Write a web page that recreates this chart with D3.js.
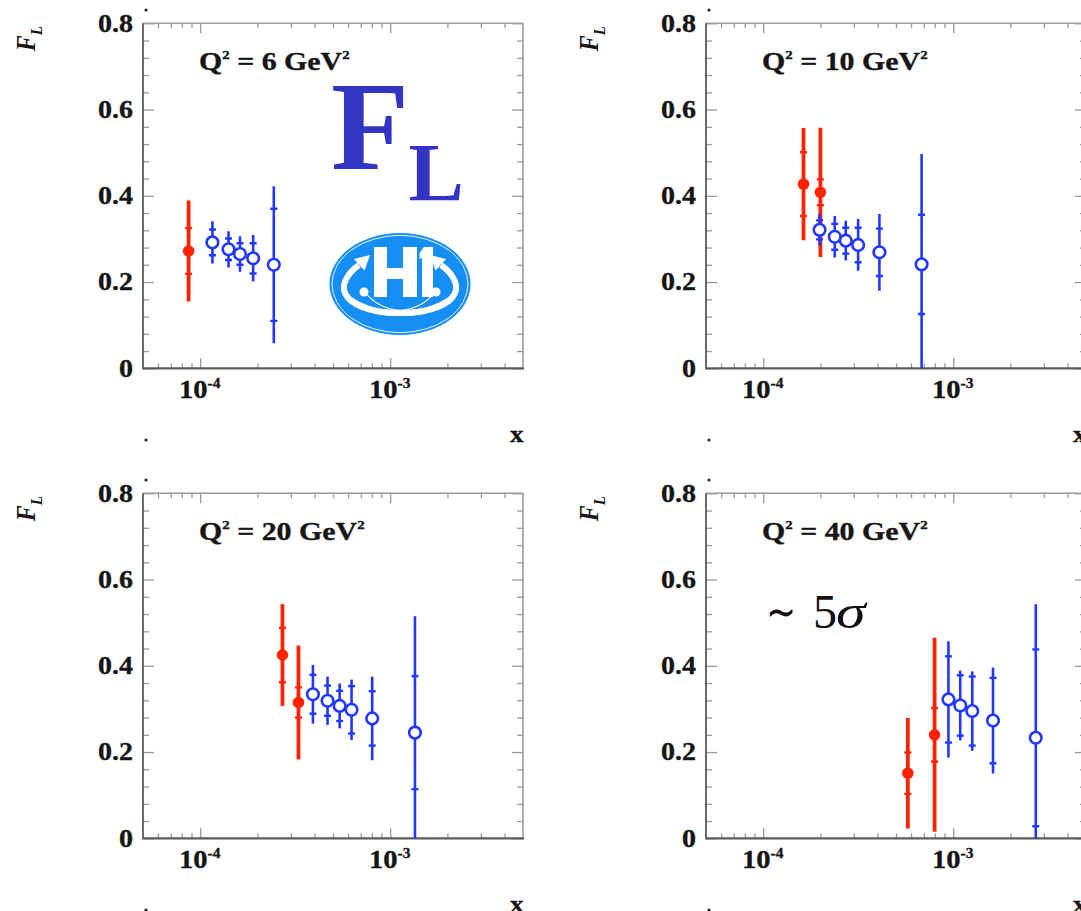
<!DOCTYPE html>
<html>
<head>
<meta charset="utf-8">
<script src="https://cdn.jsdelivr.net/npm/d3@7"></script>
<style>
  html, body { margin: 0; padding: 0; background: #fff; }
  svg { display: block; }
</style>
</head>
<body>
<svg id="chart" width="1081" height="911" font-family="'Liberation Serif', 'Times New Roman', serif"></svg>
<script>
// F_L measurements at four Q^2 values (GeV^2)
const q2Values = [6, 10, 20, 40];

// low-x points (filled red): x, F_L, statistical and total errors
const redX    = [[8.69e-5], [1.63e-4, 2.00e-4], [2.71e-4, 3.29e-4], [5.77e-4, 7.98e-4]];
const redFL   = [[0.272],   [0.427, 0.408],     [0.425, 0.315],     [0.151, 0.240]];
const redStat = [[0.053],   [0.074, 0.030],     [0.063, 0.035],     [0.048, 0.062]];
const redTot  = [[0.117],   [0.130, 0.150],     [0.118, 0.132],     [0.128, 0.225]];

// higher-x points (open blue)
const blueX    = [[1.16e-4, 1.41e-4, 1.62e-4, 1.90e-4, 2.44e-4],
                  [1.98e-4, 2.38e-4, 2.72e-4, 3.16e-4, 4.09e-4, 6.82e-4],
                  [3.92e-4, 4.68e-4, 5.42e-4, 6.26e-4, 8.04e-4, 1.35e-3],
                  [9.44e-4, 1.089e-3, 1.26e-3, 1.62e-3, 2.72e-3]];
const blueFL   = [[0.292, 0.276, 0.265, 0.255, 0.240],
                  [0.321, 0.305, 0.296, 0.286, 0.269, 0.241],
                  [0.334, 0.319, 0.307, 0.298, 0.278, 0.245],
                  [0.322, 0.308, 0.295, 0.273, 0.233]];
const blueStat = [[0.030, 0.025, 0.025, 0.035, 0.130],
                  [0.022, 0.030, 0.030, 0.040, 0.055, 0.115],
                  [0.045, 0.035, 0.035, 0.055, 0.063, 0.131],
                  [0.100, 0.070, 0.080, 0.099, 0.205]];
const blueTot  = [[0.049, 0.042, 0.041, 0.054, 0.182],
                  [0.037, 0.048, 0.046, 0.060, 0.089, 0.256],
                  [0.068, 0.056, 0.052, 0.070, 0.097, 0.270],
                  [0.135, 0.081, 0.092, 0.123, 0.310]];

// axis ticks
const yMajorTicks = [0, 0.2, 0.4, 0.6, 0.8];
const yTickLabels = ["0", "0.2", "0.4", "0.6", "0.8"];
const xMajorExps = [-4, -3];
const xMinorTicks = [6e-5, 7e-5, 8e-5, 9e-5,
                     2e-4, 3e-4, 4e-4, 5e-4, 6e-4, 7e-4, 8e-4, 9e-4,
                     2e-3, 3e-3, 4e-3];

const RED = "#ff2200";
const BLUE = "#2238ff";
const INK = "#161616";
const AXIS_DARK = "#5a5a5a";
const AXIS_LIGHT = "#9a9a9a";

const svg = d3.select("#chart");
svg.append("rect").attr("width", 1081).attr("height", 911).attr("fill", "#fff");

const frame = { left: 143, right: 523, top: 23.3, bottom: 368.3 };
const panelOffsets = [[0, 0], [563, 0], [0, 470], [563, 470]];

const x = d3.scaleLog().domain([5e-5, 5e-3]).range([frame.left, frame.right]);
const y = d3.scaleLinear().domain([0, 0.8]).range([frame.bottom, frame.top]);

const yMinorTicks = d3.range(0, 0.8001, 0.04)
  .filter(v => yMajorTicks.every(m => Math.abs(m - v) > 1e-6));
const xMajorTicks = xMajorExps.map(e => Math.pow(10, e));

const SX = 1.12; // horizontal stretch of the typeset labels

function stretchedText(g, px, py, sx) {
  return g.append("g").attr("transform", `translate(${px},${py}) scale(${sx},1)`)
    .append("text").attr("x", 0).attr("y", 0)
    .attr("stroke", INK).attr("stroke-width", 0.35);
}

q2Values.forEach((q2, i) => {
  const [ox, oy] = panelOffsets[i];
  const g = svg.append("g").attr("transform", `translate(${ox},${oy})`);

  const clipId = "clip" + i;
  g.append("clipPath").attr("id", clipId)
    .append("rect")
    .attr("x", frame.left).attr("y", frame.top)
    .attr("width", frame.right - frame.left).attr("height", frame.bottom - frame.top);

  // tick marks on all four sides, pointing inward
  const tickStyle = sel => {
    sel.select(".domain").remove();
    sel.selectAll(".tick line").attr("stroke", AXIS_LIGHT).attr("stroke-width", 1.3);
  };
  const bottomMajor = d3.axisBottom(x).tickValues(xMajorTicks).tickSize(-10).tickFormat("");
  const bottomMinor = d3.axisBottom(x).tickValues(xMinorTicks).tickSize(-5).tickFormat("");
  const topMajor = d3.axisTop(x).tickValues(xMajorTicks).tickSize(-10).tickFormat("");
  const topMinor = d3.axisTop(x).tickValues(xMinorTicks).tickSize(-5).tickFormat("");
  const leftMajor = d3.axisLeft(y).tickValues(yMajorTicks).tickSize(-11).tickFormat("");
  const leftMinor = d3.axisLeft(y).tickValues(yMinorTicks).tickSize(-6).tickFormat("");
  const rightMajor = d3.axisRight(y).tickValues(yMajorTicks).tickSize(-11).tickFormat("");
  const rightMinor = d3.axisRight(y).tickValues(yMinorTicks).tickSize(-6).tickFormat("");

  [[bottomMajor, 0, frame.bottom], [bottomMinor, 0, frame.bottom],
   [topMajor, 0, frame.top], [topMinor, 0, frame.top],
   [leftMajor, frame.left, 0], [leftMinor, frame.left, 0],
   [rightMajor, frame.right, 0], [rightMinor, frame.right, 0]].forEach(([ax, tx, ty]) => {
    g.append("g").attr("transform", `translate(${tx},${ty})`).call(ax).call(tickStyle);
  });

  // frame
  g.append("line").attr("x1", frame.left).attr("x2", frame.right)
    .attr("y1", frame.top).attr("y2", frame.top)
    .attr("stroke", AXIS_LIGHT).attr("stroke-width", 1.6);
  g.append("line").attr("x1", frame.right).attr("x2", frame.right)
    .attr("y1", frame.top).attr("y2", frame.bottom)
    .attr("stroke", AXIS_LIGHT).attr("stroke-width", 1.6);
  g.append("line").attr("x1", frame.left).attr("x2", frame.left)
    .attr("y1", frame.top).attr("y2", frame.bottom + 1)
    .attr("stroke", AXIS_DARK).attr("stroke-width", 1.8);
  g.append("line").attr("x1", frame.left).attr("x2", frame.right + 1)
    .attr("y1", frame.bottom).attr("y2", frame.bottom)
    .attr("stroke", AXIS_DARK).attr("stroke-width", 2.2);

  // y tick labels
  yMajorTicks.forEach((v, k) => {
    stretchedText(g, 133, y(v) + 8.4, SX)
      .attr("text-anchor", "end").attr("font-size", 25).attr("font-weight", "bold")
      .attr("fill", INK).text(yTickLabels[k]);
  });

  // x tick labels 10^n
  xMajorExps.forEach(e => {
    const t = stretchedText(g, x(Math.pow(10, e)) - 0.5, 398, 1.1)
      .attr("text-anchor", "middle").attr("font-weight", "bold").attr("fill", INK);
    t.append("tspan").attr("font-size", 26).text("10");
    t.append("tspan").attr("font-size", 14).attr("dy", -10).text(String(e));
  });

  // axis titles
  stretchedText(g, 516.7, 441.5, 1.18)
    .attr("text-anchor", "middle").attr("font-size", 23).attr("font-weight", "bold")
    .attr("fill", INK).text("x");

  const fl = g.append("g").attr("transform", "translate(35,26) scale(1.12,1) rotate(-90)")
    .append("text").attr("text-anchor", "end").attr("font-weight", "bold")
    .attr("font-style", "italic").attr("fill", INK);
  fl.append("tspan").attr("font-size", 24).text("F");
  fl.append("tspan").attr("font-size", 15).attr("dy", 6).text("L");

  // corner marks
  [[146, 10], [146, 440]].forEach(([cx, cy]) => {
    g.append("circle").attr("cx", cx).attr("cy", cy).attr("r", 1.6).attr("fill", "#222");
  });

  // Q^2 label
  const q = stretchedText(g, 199, 70, 1.15)
    .attr("font-size", 26).attr("font-weight", "bold").attr("fill", INK);
  q.append("tspan").text("Q");
  q.append("tspan").attr("font-size", 13).attr("dy", -11).text("2");
  q.append("tspan").attr("dy", 11).attr("xml:space", "preserve").text(" = " + q2 + " GeV");
  q.append("tspan").attr("font-size", 13).attr("dy", -11).text("2");

  // data
  const plot = g.append("g").attr("clip-path", `url(#${clipId})`);

  function drawSeries(xs, vs, stats, tots, color, barW, open) {
    xs.forEach((xv, k) => {
      const cx = x(xv), v = vs[k];
      plot.append("line").attr("x1", cx).attr("x2", cx)
        .attr("y1", y(v - tots[k])).attr("y2", y(v + tots[k]))
        .attr("stroke", color).attr("stroke-width", barW);
      [v - stats[k], v + stats[k]].forEach(sv => {
        plot.append("line").attr("x1", cx - 3.5).attr("x2", cx + 3.5)
          .attr("y1", y(sv)).attr("y2", y(sv))
          .attr("stroke", color).attr("stroke-width", 2.4);
      });
      if (open) {
        plot.append("circle").attr("cx", cx).attr("cy", y(v)).attr("r", 5.8)
          .attr("fill", "#fff").attr("stroke", color).attr("stroke-width", 2.6);
      } else {
        plot.append("circle").attr("cx", cx).attr("cy", y(v)).attr("r", 5.8)
          .attr("fill", color);
      }
    });
  }
  drawSeries(redX[i], redFL[i], redStat[i], redTot[i], RED, 3.8, false);
  drawSeries(blueX[i], blueFL[i], blueStat[i], blueTot[i], BLUE, 2.6, true);
});

// title glyph F_L in the first panel
const title = svg.append("g").attr("fill", "#3434c4").attr("font-weight", "bold");
title.append("text").attr("x", 331).attr("y", 169.3).attr("font-size", 128).text("F");
title.append("text").attr("x", 408.5).attr("y", 200).attr("font-size", 83).text("L");

// H1 emblem
const logo = svg.append("g").attr("transform", "translate(400,284)");
logo.append("ellipse").attr("rx", 70.5).attr("ry", 51).attr("fill", "#168ff5");
logo.append("ellipse").attr("rx", 68).attr("ry", 48.6).attr("fill", "none")
  .attr("stroke", "#e8f4ff").attr("stroke-width", 1);
[1, -1].forEach(s => {
  const a = logo.append("g").attr("transform", `scale(${s},1)`);
  // thin crossing loop
  a.append("path").attr("d", "M -35,8 C -18,31 20,33 50,13")
    .attr("fill", "none").attr("stroke", "#fff").attr("stroke-width", 1.2);
  // curved arrow band
  a.append("path")
    .attr("d", "M -41,-19 C -52,-11 -59,0 -55,9 C -50,21 -30,28 -5,29 C 10,29.5 22,28 32,25")
    .attr("fill", "none").attr("stroke", "#fff").attr("stroke-width", 6);
  a.append("path").attr("d", "M -30,-29 L -35.5,-13.5 L -46,-25 Z").attr("fill", "#fff");
  a.append("circle").attr("cx", -36).attr("cy", 8).attr("r", 4.5).attr("fill", "#fff");
});
// letters H and 1
logo.append("path").attr("fill", "#fff").attr("d",
  "M -26,-37 L -13,-37 L -13,-16 L 3,-16 L 3,-37 L 17,-37 L 17,13 L 3,13 L 3,-5 L -13,-5 L -13,13 L -26,13 Z");
logo.append("path").attr("fill", "#fff").attr("d",
  "M 24,-37 L 33,-37 L 33,13 L 22,13 L 22,-26 L 19.5,-25 L 19.5,-31 Z");

// significance note in the last panel
const note = svg.append("g").attr("fill", "#111").attr("font-size", 48);
note.append("text").attr("transform", "translate(766,628) scale(0.75,1)").text("\u223C");
note.append("text").attr("x", 813).attr("y", 628).text("5");
note.append("text").attr("font-style", "italic")
  .attr("transform", "translate(836,628) scale(1.25,1)").text("\u03C3");
</script>
</body>
</html>
